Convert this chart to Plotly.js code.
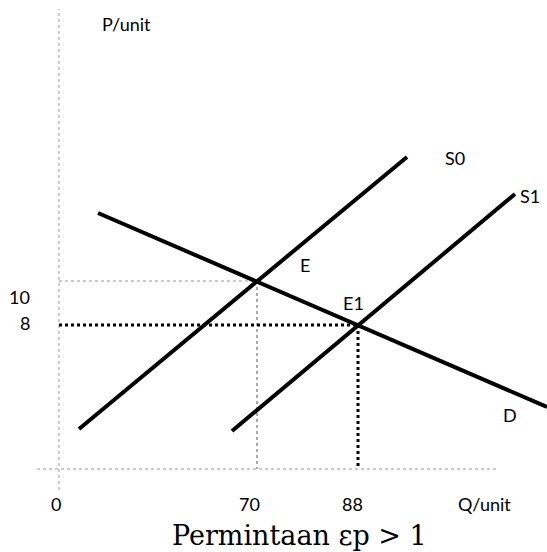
<!DOCTYPE html>
<html>
<head>
<meta charset="utf-8">
<script src="https://cdn.plot.ly/plotly-3.0.1.min.js"></script>
<style>html,body{margin:0;padding:0;background:#fff;}#chart{width:547px;height:552px;}</style>
</head>
<body>
<div id="chart"></div>
<script>
// Diagram units: origin at the axes crossing
const s0X = [20, 348], s0Y = [40, 312];
const s1X = [173, 456], s1Y = [38, 275];
const dX = [39, 488], dY = [256, 62];
const eQ = 198, eP = 188;      // equilibrium E
const e1Q = 299, e1P = 144;    // equilibrium E1
const qTickPos = [-3, 190.5, 293.5], qTickLabels = ['0', '70', '88'];
const pTickPos = [172, 146], pTickLabels = ['10', '8'];
const curveNames = ['S0', 'S1', 'D', 'E', 'E1'];
const curveLabelX = [396, 471, 451, 246, 294];
const curveLabelY = [311, 273, 54, 204, 166];

const thick = {color: '#000', width: 4};
const traces = [
  {x: [0, 0], y: [-21, 460], mode: 'lines', line: {color: '#999', width: 1, dash: 'dot'}},
  {x: [-22, 438], y: [0, 0], mode: 'lines', line: {color: '#999', width: 1, dash: 'dot'}},
  {x: [0, eQ], y: [eP, eP], mode: 'lines', line: {color: '#999', width: 1, dash: 'dot'}},
  {x: [eQ, eQ], y: [eP, 0], mode: 'lines', line: {color: '#555', width: 1, dash: 'dot'}},
  {x: [0, e1Q + 5], y: [e1P, e1P], mode: 'lines', line: {color: '#000', width: 3, dash: 'dot'}},
  {x: [e1Q, e1Q], y: [e1P, 0], mode: 'lines', line: {color: '#000', width: 3, dash: 'dot'}},
  {x: s0X, y: s0Y, mode: 'lines', line: thick},
  {x: s1X, y: s1Y, mode: 'lines', line: thick},
  {x: dX, y: dY, mode: 'lines', line: thick}
];

const font = {family: 'Lato, "Open Sans", sans-serif', size: 18, color: '#000'};
const annotations = [];
qTickPos.forEach((q, i) => annotations.push({x: q, y: -34.5, text: qTickLabels[i], showarrow: false, font}));
annotations.push({x: 425, y: -34.5, text: 'Q/unit', showarrow: false, font});
pTickPos.forEach((p, i) => annotations.push({x: -27, y: p, text: pTickLabels[i], showarrow: false, font, xanchor: 'right'}));
annotations.push({x: 67, y: 445, text: 'P/unit', showarrow: false, font});
curveNames.forEach((n, i) => annotations.push({x: curveLabelX[i], y: curveLabelY[i], text: n, showarrow: false, font}));
annotations.push({x: 240, y: -66, text: 'Permintaan εp > 1', showarrow: false,
  font: {family: '"DejaVu Serif", "Liberation Serif", serif', size: 27, color: '#000'}});

const layout = {
  width: 547, height: 552,
  margin: {l: 0, r: 0, t: 0, b: 0},
  paper_bgcolor: '#fff', plot_bgcolor: '#fff',
  showlegend: false,
  xaxis: {range: [-59, 488], visible: false, fixedrange: true},
  yaxis: {range: [-83, 469], visible: false, fixedrange: true},
  annotations
};
Plotly.newPlot('chart', traces.map(t => Object.assign({hoverinfo: 'skip', cliponaxis: false}, t)), layout, {staticPlot: true});
</script>
</body>
</html>
